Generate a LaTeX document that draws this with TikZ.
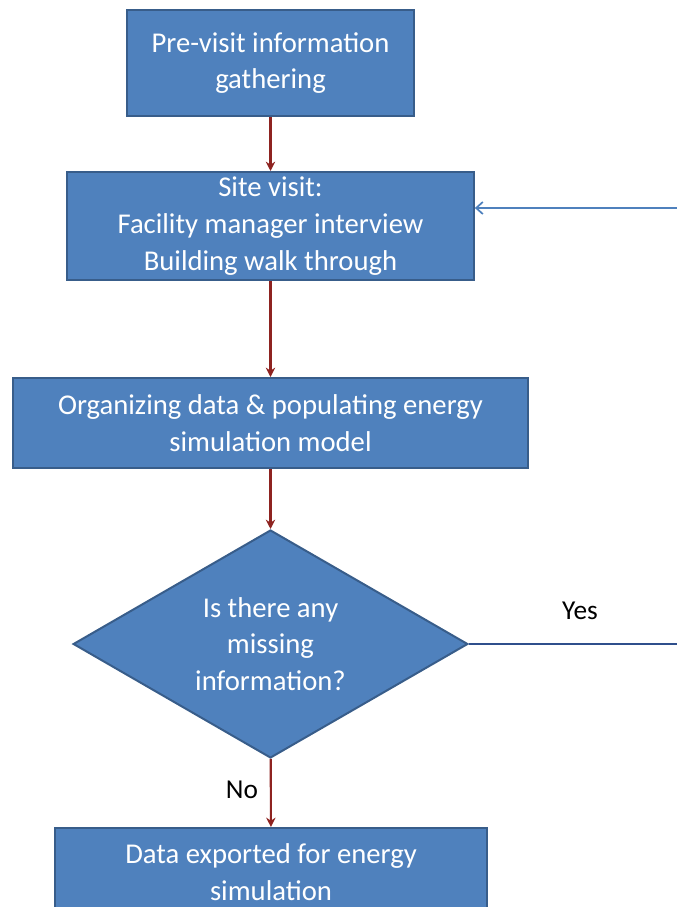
\documentclass[tikz,border=0pt]{standalone}
\usepackage{fontspec}
\setmainfont{Carlito}
\usepackage{xcolor}
\usetikzlibrary{shapes.geometric,arrows.meta}

\definecolor{boxfill}{HTML}{4F81BD}
\definecolor{boxline}{HTML}{385D8A}
\definecolor{arrowred}{HTML}{8E2320}
\definecolor{yesline}{HTML}{2F4F8C}

\tikzset{
    stepbox/.style={draw=boxline, line width=1.5pt, fill=boxfill, text=white,
        align=center, font=\fontsize{21.5}{27.5}\selectfont, inner sep=0pt},
    decision/.style={stepbox, diamond, aspect=1.73},
    flow/.style={draw=arrowred, line width=1.6pt, -{Stealth[length=7pt,width=7pt]}},
    label/.style={font=\fontsize{20.5}{24}\selectfont, text=black}
}

\begin{document}
\begin{tikzpicture}[x=0.75pt, y=-0.75pt]
    \useasboundingbox (0,0) rectangle (677,907);
    \clip (0,0) rectangle (677,907);

    % Steps
    \node[stepbox, minimum width=215pt, minimum height=79.5pt] (gather) at (270.5,63)
        {Pre-visit information\\gathering};
    \node[stepbox, minimum width=305pt, minimum height=81pt] (visit) at (270.5,226)
        {Site visit:\\Facility manager interview\\Building walk through};
    \node[stepbox, minimum width=386pt, minimum height=67.5pt] (organize) at (270.5,423)
        {Organizing data \& populating energy\\simulation model};
    \node[decision, minimum width=296pt, minimum height=171pt] (missing) at (270.5,644)
        {Is there any\\missing\\information?};
    \node[stepbox, minimum width=324pt, minimum height=66pt] (export) at (271,872)
        {Data exported for energy\\simulation};

    % Loop ends at the right edge
    \coordinate (yesend) at (677,644);
    \coordinate (backstart) at (677,208);

    % Connectors
    \draw[flow] (gather) -- (visit);
    \draw[flow] (visit) -- (organize);
    \draw[flow] (organize) -- (missing);
    \draw[flow] (missing) -- (export);
    \draw[draw=yesline, line width=1.5pt] (missing.east) -- (yesend);
    \draw[draw=boxfill, line width=1.3pt, -{Straight Barb[length=5pt,width=9pt]}] (backstart) -- (visit.east |- backstart);

    % Labels
    \node[label] (yes) at (580,611) {Yes};
    \node[label] (no) at (242,790) {No};
\end{tikzpicture}
\end{document}
